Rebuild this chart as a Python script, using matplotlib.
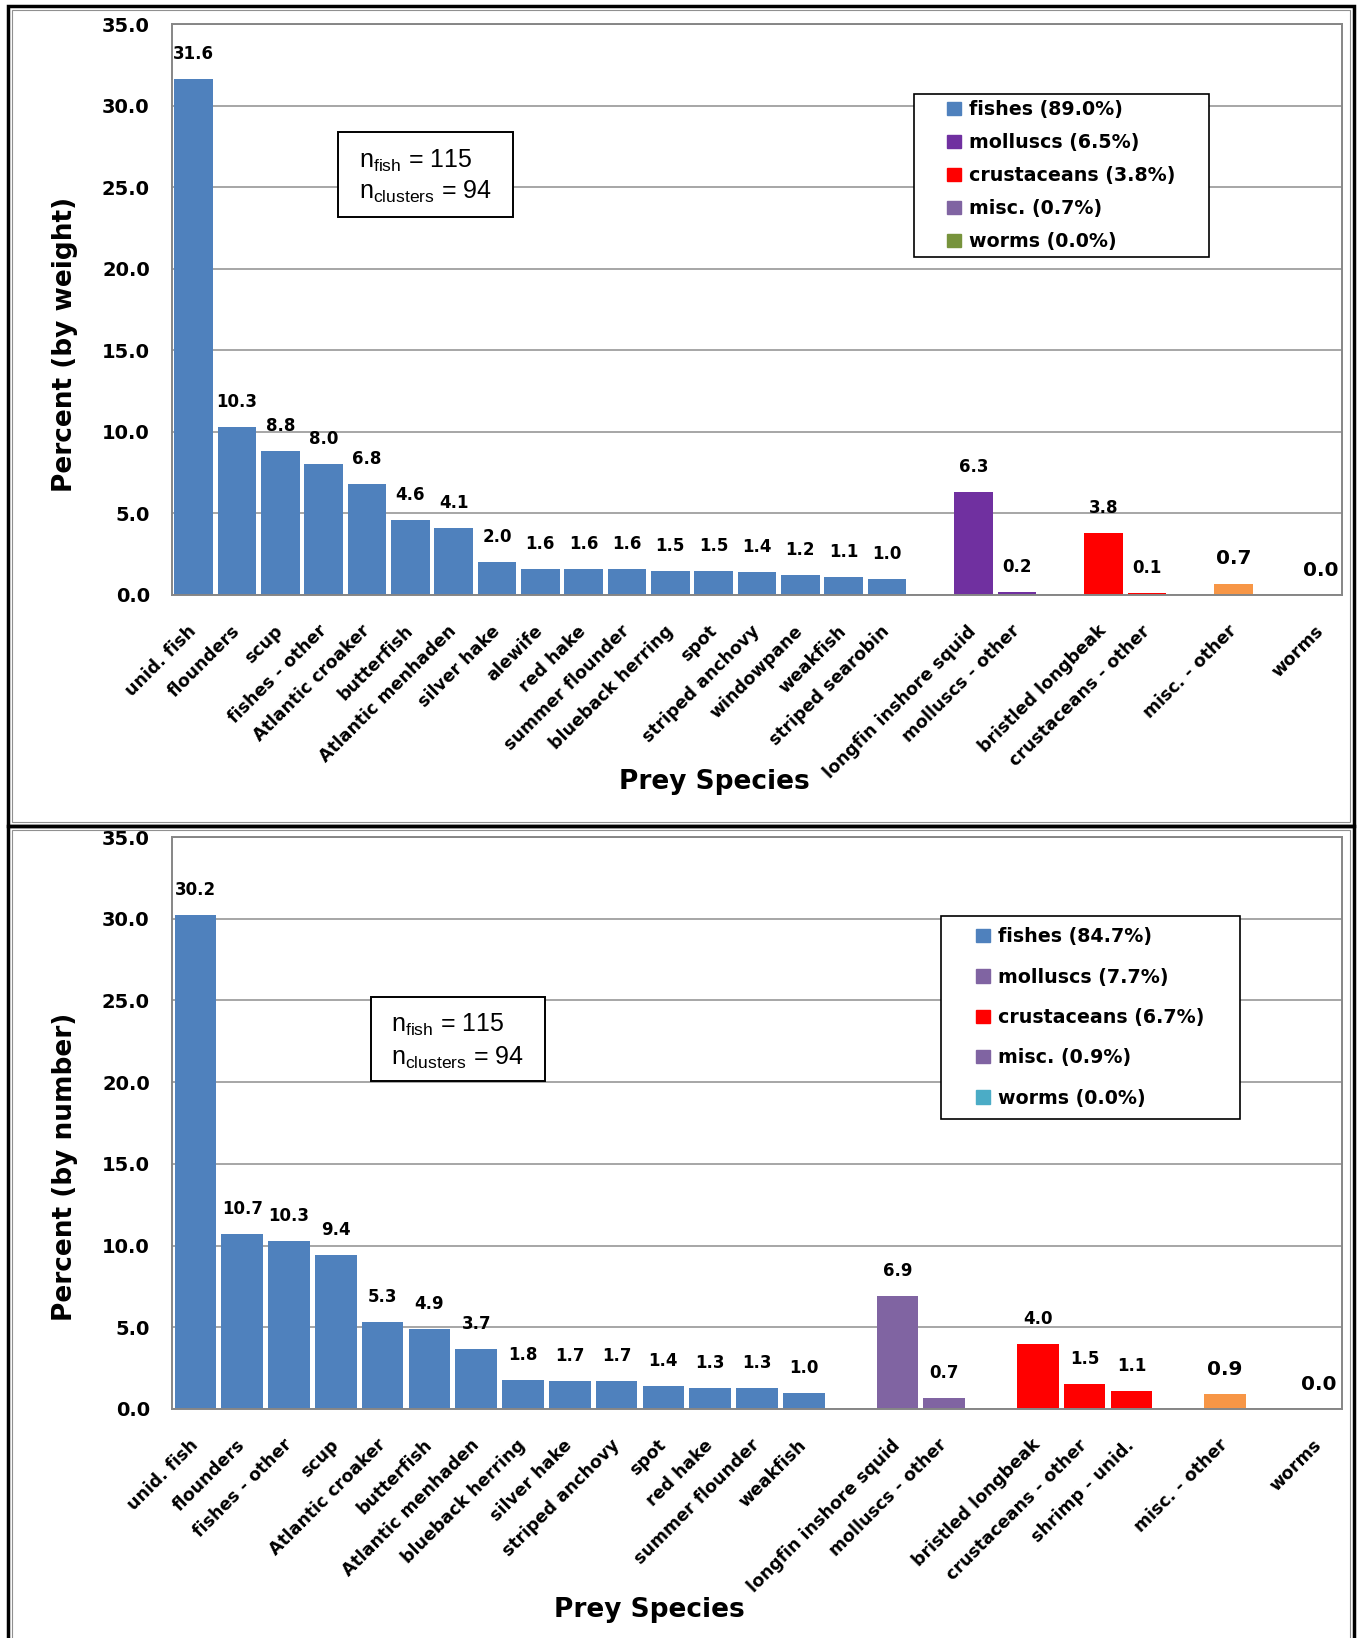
import matplotlib

matplotlib.use("Agg")
import matplotlib.pyplot as plt
from matplotlib.patches import Patch, Rectangle

plt.rcParams["font.family"] = ["DejaVu Sans"]

# ---- top panel: percent by weight ----
wt_fish_labels = ["unid. fish", "flounders", "scup", "fishes - other", "Atlantic croaker",
                  "butterfish", "Atlantic menhaden", "silver hake", "alewife", "red hake",
                  "summer flounder", "blueback herring", "spot", "striped anchovy",
                  "windowpane", "weakfish", "striped searobin"]
wt_fish_values = [31.6, 10.3, 8.8, 8.0, 6.8, 4.6, 4.1, 2.0, 1.6, 1.6, 1.6, 1.5, 1.5, 1.4,
                  1.2, 1.1, 1.0]
wt_moll_labels = ["longfin inshore squid", "molluscs - other"]
wt_moll_values = [6.3, 0.2]
wt_crus_labels = ["bristled longbeak", "crustaceans - other"]
wt_crus_values = [3.8, 0.1]
wt_misc_labels = ["misc. - other"]
wt_misc_values = [0.7]
wt_worm_labels = ["worms"]
wt_worm_values = [0.0]
wt_legend = ["fishes (89.0%)", "molluscs (6.5%)", "crustaceans (3.8%)", "misc. (0.7%)",
             "worms (0.0%)"]

# ---- bottom panel: percent by number ----
nb_fish_labels = ["unid. fish", "flounders", "fishes - other", "scup", "Atlantic croaker",
                  "butterfish", "Atlantic menhaden", "blueback herring", "silver hake",
                  "striped anchovy", "spot", "red hake", "summer flounder", "weakfish"]
nb_fish_values = [30.2, 10.7, 10.3, 9.4, 5.3, 4.9, 3.7, 1.8, 1.7, 1.7, 1.4, 1.3, 1.3, 1.0]
nb_moll_labels = ["longfin inshore squid", "molluscs - other"]
nb_moll_values = [6.9, 0.7]
nb_crus_labels = ["bristled longbeak", "crustaceans - other", "shrimp - unid."]
nb_crus_values = [4.0, 1.5, 1.1]
nb_misc_labels = ["misc. - other"]
nb_misc_values = [0.9]
nb_worm_labels = ["worms"]
nb_worm_values = [0.0]
nb_legend = ["fishes (84.7%)", "molluscs (7.7%)", "crustaceans (6.7%)", "misc. (0.9%)",
             "worms (0.0%)"]

n_fish, n_clusters = 115, 94

FISH = "#4F81BD"
RED = "#FF0000"
ORANGE = "#F79646"
LAVENDER = "#8064A2"
GRID = "#A6A6A6"
W, H = 1359, 1638


def draw_panel(ax, groups, legend_labels, legend_colors, ylabel, xlabel_xy, ylabel_y,
               leg_box, nbox, ntext_x, ntext_y):
    pos, names = 0, []
    ticks = []
    for labels, values, color, big in groups:
        xs = list(range(pos, pos + len(values)))
        ax.bar(xs, values, width=0.89, color=color, zorder=2)
        for x, v in zip(xs, values):
            ax.annotate(f"{v:.1f}", (x, v), xytext=(0, 18), textcoords="offset points",
                        ha="center", va="center", fontsize=14.5 if big else 12,
                        fontweight="bold")
        ticks += xs
        names += labels
        pos += len(values) + 1  # one empty category between groups
    ax.set_xlim(-0.5, pos - 1.5)
    ax.set_ylim(0, 35)
    ax.set_xticks(ticks)
    ax.set_xticklabels(names, rotation=45, ha="right", va="center",
                       rotation_mode="anchor", fontsize=12.5, fontweight="bold")
    ax.set_yticks(range(0, 36, 5))
    ax.set_yticklabels([f"{t:.1f}" for t in range(0, 36, 5)], fontsize=14, fontweight="bold")
    ax.tick_params(axis="x", length=0, pad=24)
    ax.tick_params(axis="y", length=0, pad=16)
    ax.yaxis.grid(True, color=GRID, lw=1.4)
    ax.set_axisbelow(True)
    for sp in ax.spines.values():
        sp.set_color("#868686")
        sp.set_linewidth(1.4)

    ax.text(-0.0915, ylabel_y, ylabel, transform=ax.transAxes, rotation=90,
            ha="center", va="center", fontsize=19, fontweight="bold")
    ax.text(xlabel_xy[0], xlabel_xy[1], "Prey Species", transform=ax.transAxes,
            ha="center", va="center", fontsize=19, fontweight="bold")

    # legend: frameless entries inside a drawn box
    x0, y0, x1, y1, spacing = leg_box
    ax.add_patch(Rectangle((x0, y0), x1 - x0, y1 - y0, transform=ax.transAxes,
                           fill=True, fc="white", ec="black", lw=1.2, zorder=4))
    handles = [Patch(color=c) for c in legend_colors]
    leg = ax.legend(handles, legend_labels, loc="center",
                    bbox_to_anchor=((x0 + x1) / 2, (y0 + y1) / 2), frameon=False,
                    prop={"size": 13.7, "weight": "bold"}, handlelength=0.7,
                    handleheight=0.7, handletextpad=0.45, labelspacing=spacing,
                    borderpad=0)
    leg.set_zorder(5)

    # sample size box
    bx0, by0, bx1, by1 = nbox
    ax.add_patch(Rectangle((bx0, by0), bx1 - bx0, by1 - by0, transform=ax.transAxes,
                           fc="white", ec="black", lw=1.4, zorder=4))
    ax.text(ntext_x, ntext_y[0], r"$\mathregular{n_{fish}}$" + f" = {n_fish}",
            transform=ax.transAxes, family="Liberation Sans", fontsize=18,
            va="baseline", zorder=5)
    ax.text(ntext_x, ntext_y[1], r"$\mathregular{n_{clusters}}$" + f" = {n_clusters}",
            transform=ax.transAxes, family="Liberation Sans", fontsize=18,
            va="baseline", zorder=5)


fig = plt.figure(figsize=(W / 100, H / 100), dpi=100)

# panel frames
for top, bottom in [(6, 826), (826, 1648)]:
    fig.add_artist(Rectangle((8 / W, 1 - bottom / H), 1346 / W, (bottom - top) / H,
                             transform=fig.transFigure, fill=False, ec="black", lw=2.5))
    fig.add_artist(Rectangle((12 / W, 1 - (bottom - 4) / H), 1338 / W, (bottom - top - 8) / H,
                             transform=fig.transFigure, fill=False, ec="#909090", lw=0.8))

ax1 = fig.add_axes([172 / W, 1 - 595 / H, 1170 / W, 571 / H])
ax2 = fig.add_axes([172 / W, 1 - 1409 / H, 1170 / W, 572 / H])

draw_panel(ax1,
           [(wt_fish_labels, wt_fish_values, FISH, False),
            (wt_moll_labels, wt_moll_values, "#7030A0", False),
            (wt_crus_labels, wt_crus_values, RED, False),
            (wt_misc_labels, wt_misc_values, ORANGE, True),
            (wt_worm_labels, wt_worm_values, "#77933C", True)],
           wt_legend, [FISH, "#7030A0", RED, LAVENDER, "#77933C"],
           "Percent (by weight)", (0.4637, -0.328), 0.438,
           (0.6342, 0.5919, 0.8863, 0.8774, 0.74),
           (0.1419, 0.662, 0.2915, 0.8109), 0.1598, (0.7478, 0.6935))

draw_panel(ax2,
           [(nb_fish_labels, nb_fish_values, FISH, False),
            (nb_moll_labels, nb_moll_values, LAVENDER, False),
            (nb_crus_labels, nb_crus_values, RED, False),
            (nb_misc_labels, nb_misc_values, ORANGE, True),
            (nb_worm_labels, nb_worm_values, "#4BACC6", True)],
           nb_legend, [FISH, LAVENDER, RED, LAVENDER, "#4BACC6"],
           "Percent (by number)", (0.408, -0.351), 0.423,
           (0.6573, 0.5070, 0.9128, 0.8619, 1.12),
           (0.1697, 0.574, 0.3188, 0.7208), 0.1868, (0.6596, 0.6014))

fig.savefig("out.png", dpi=100)
